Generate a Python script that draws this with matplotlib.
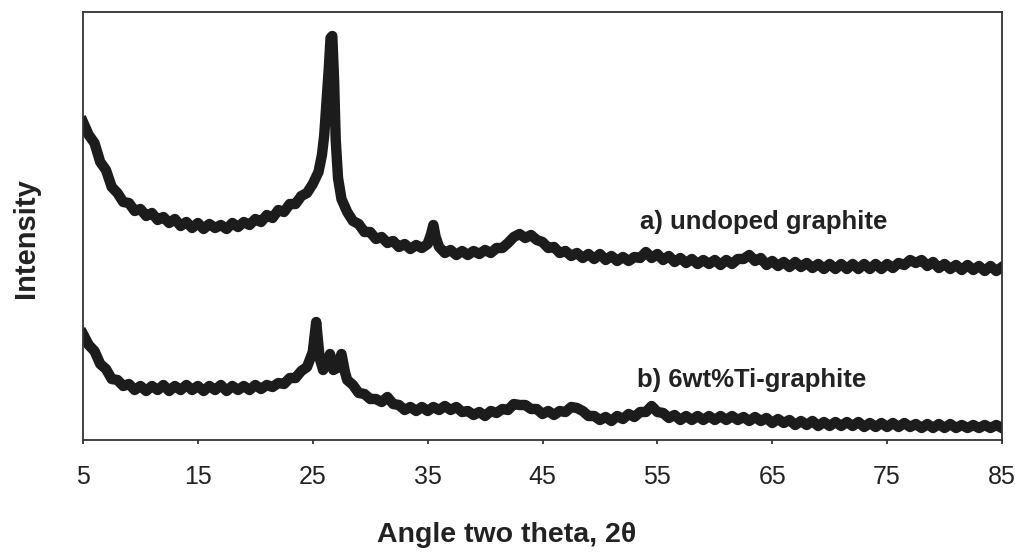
import matplotlib
matplotlib.use("Agg")
import matplotlib.pyplot as plt
from matplotlib import font_manager

# pick a narrow font if the system has one (the tick labels look condensed)
narrow = "Liberation Sans"
try:
    font_manager.findfont("Liberation Sans Narrow", fallback_to_default=False)
    narrow = "Liberation Sans Narrow"
except ValueError:
    pass

plt.rcParams['font.family'] = 'Liberation Sans'

# Data (intensity in arbitrary units)
two_theta_a = [5.0, 5.5, 6.0, 6.5, 7.0, 7.5, 8.0, 8.5, 9.0, 9.5, 10.0, 10.5, 11.0, 11.5,
               12.0, 12.5, 13.0, 13.5, 14.0, 14.5, 15.0, 15.5, 16.0, 16.5, 17.0, 17.5,
               18.0, 18.5, 19.0, 19.5, 20.0, 20.5, 21.0, 21.5, 22.0, 22.5, 23.0, 23.5,
               24.0, 24.5, 25.0, 25.5, 25.8, 26.0, 26.2, 26.4, 26.55, 26.7, 26.85, 27.0,
               27.2, 27.5, 28.0, 28.5, 29.0, 29.5, 30.0, 30.5, 31.0, 31.5, 32.0, 32.5,
               33.0, 33.5, 34.0, 34.5, 35.0, 35.3, 35.5, 35.7, 36.0, 36.5, 37.0, 37.5,
               38.0, 38.5, 39.0, 39.5, 40.0, 40.5, 41.0, 41.5, 42.0, 42.5, 43.0, 43.5,
               44.0, 44.5, 45.0, 45.5, 46.0, 46.5, 47.0, 47.5, 48.0, 48.5, 49.0, 49.5,
               50.0, 50.5, 51.0, 51.5, 52.0, 52.5, 53.0, 53.5, 54.0, 54.5, 55.0, 55.5,
               56.0, 56.5, 57.0, 57.5, 58.0, 58.5, 59.0, 59.5, 60.0, 60.5, 61.0, 61.5,
               62.0, 62.5, 63.0, 63.5, 64.0, 64.5, 65.0, 65.5, 66.0, 66.5, 67.0, 67.5,
               68.0, 68.5, 69.0, 69.5, 70.0, 70.5, 71.0, 71.5, 72.0, 72.5, 73.0, 73.5,
               74.0, 74.5, 75.0, 75.5, 76.0, 76.5, 77.0, 77.5, 78.0, 78.5, 79.0, 79.5,
               80.0, 80.5, 81.0, 81.5, 82.0, 82.5, 83.0, 83.5, 84.0, 84.5, 85.0]
intensity_a = [318, 305, 297, 278, 270, 253, 247, 238, 237, 229, 231, 224, 227, 220,
               223, 217, 221, 214, 218, 212, 217, 211, 216, 212, 215, 211,
               217, 213, 218, 215, 221, 218, 225, 222, 230, 228, 236, 236,
               244, 247, 256, 268, 285, 305, 338, 372, 402, 404, 362, 300,
               262, 241, 228, 219, 216, 208, 208, 201, 203, 197, 199, 193,
               196, 191, 195, 192, 196, 206, 215, 203, 193, 187, 190, 185,
               189, 185, 189, 186, 190, 187, 192, 192, 197, 203, 206, 202,
               205, 200, 198, 192, 193, 187, 189, 184, 187, 182, 186, 181,
               186, 180, 184, 179, 183, 179, 183, 182, 188, 182, 186, 180,
               184, 178, 182, 177, 181, 176, 180, 176, 180, 175, 180, 176,
               181, 181, 185, 179, 182, 175, 179, 174, 178, 173, 178, 173,
               177, 172, 176, 171, 176, 171, 176, 171, 176, 171, 176, 171,
               176, 171, 176, 172, 177, 175, 180, 177, 180, 174, 178, 172,
               176, 171, 175, 170, 175, 170, 174, 169, 174, 169, 173]

two_theta_b = [5.0, 5.5, 6.0, 6.5, 7.0, 7.5, 8.0, 8.5, 9.0, 9.5, 10.0, 10.5, 11.0, 11.5,
               12.0, 12.5, 13.0, 13.5, 14.0, 14.5, 15.0, 15.5, 16.0, 16.5, 17.0, 17.5,
               18.0, 18.5, 19.0, 19.5, 20.0, 20.5, 21.0, 21.5, 22.0, 22.5, 23.0, 23.5,
               24.0, 24.5, 25.0, 25.3, 25.6, 25.9, 26.2, 26.5, 26.8, 27.1, 27.5, 27.8,
               28.0, 28.5, 29.0, 29.5, 30.0, 30.5, 31.0, 31.5, 32.0, 32.5, 33.0, 33.5,
               34.0, 34.5, 35.0, 35.5, 36.0, 36.5, 37.0, 37.5, 38.0, 38.5, 39.0, 39.5,
               40.0, 40.5, 41.0, 41.5, 42.0, 42.5, 43.0, 43.5, 44.0, 44.5, 45.0, 45.5,
               46.0, 46.5, 47.0, 47.5, 48.0, 48.5, 49.0, 49.5, 50.0, 50.5, 51.0, 51.5,
               52.0, 52.5, 53.0, 53.5, 54.0, 54.5, 55.0, 55.5, 56.0, 56.5, 57.0, 57.5,
               58.0, 58.5, 59.0, 59.5, 60.0, 60.5, 61.0, 61.5, 62.0, 62.5, 63.0, 63.5,
               64.0, 64.5, 65.0, 65.5, 66.0, 66.5, 67.0, 67.5, 68.0, 68.5, 69.0, 69.5,
               70.0, 70.5, 71.0, 71.5, 72.0, 72.5, 73.0, 73.5, 74.0, 74.5, 75.0, 75.5,
               76.0, 76.5, 77.0, 77.5, 78.0, 78.5, 79.0, 79.5, 80.0, 80.5, 81.0, 81.5,
               82.0, 82.5, 83.0, 83.5, 84.0, 84.5, 85.0]
intensity_b = [106, 95, 89, 76, 71, 61, 60, 54, 56, 50, 54, 49, 54, 50,
               55, 49, 54, 50, 55, 50, 54, 49, 54, 50, 55, 49,
               54, 50, 54, 50, 55, 51, 55, 53, 57, 56, 62, 62,
               69, 73, 88, 118, 82, 70, 76, 86, 70, 72, 86, 68,
               60, 55, 47, 46, 41, 41, 38, 43, 36, 35, 30, 33,
               29, 33, 29, 33, 30, 34, 30, 33, 28, 29, 25, 28,
               24, 29, 27, 31, 30, 36, 35, 35, 31, 31, 26, 29,
               25, 29, 28, 33, 32, 29, 24, 24, 20, 23, 19, 24,
               21, 26, 23, 28, 28, 34, 28, 27, 22, 25, 20, 24,
               20, 24, 20, 24, 20, 24, 20, 24, 20, 23, 19, 23,
               19, 22, 17, 21, 17, 20, 15, 19, 15, 19, 14, 18,
               14, 18, 14, 18, 14, 18, 13, 17, 13, 17, 13, 17,
               13, 17, 13, 16, 12, 16, 12, 16, 12, 16, 12, 15,
               12, 15, 12, 15, 12, 15, 12]

labels = ["a) undoped graphite", "b) 6wt%Ti-graphite"]
xticks = [5, 15, 25, 35, 45, 55, 65, 75, 85]

fig = plt.figure(figsize=(10.15, 5.53), dpi=100)
ax = fig.add_axes([83 / 1015, 1 - 440 / 553, 919 / 1015, 428 / 553])

line_color = "#1c1c1c"
ax.plot(two_theta_a, intensity_a, color=line_color, linewidth=7.5, solid_joinstyle="round")
ax.plot(two_theta_b, intensity_b, color=line_color, linewidth=7.5, solid_joinstyle="round")

# curve labels
ax.text(53.5, 218, labels[0], fontsize=18.5, fontweight="bold", color="#222222",
        va="center", ha="left")
ax.text(53.2, 60, labels[1], fontsize=18.5, fontweight="bold", color="#222222",
        va="center", ha="left")

ax.set_xlim(5, 85)
ax.set_ylim(0, 428)
ax.set_yticks([])
ax.set_xticks(xticks)
ax.set_xticklabels([str(t) for t in xticks], fontfamily=narrow, fontsize=18, color="#222222")
ax.tick_params(axis="x", direction="out", length=3, width=1.2, pad=15, colors="#222222")

for spine in ax.spines.values():
    spine.set_linewidth(1.3)
    spine.set_color("#333333")

fig.text(507 / 1015, 1 - 535 / 553, "Angle two theta, 2\u03b8", fontfamily=narrow,
         fontsize=20.5, fontweight="bold", ha="center", va="center", color="#222222")
fig.text(26 / 1015, 1 - 238 / 553, "Intensity", fontfamily=narrow, fontsize=21,
         fontweight="bold", rotation=90, ha="center", va="center", color="#222222")

fig.savefig("out.png", dpi=100)
plt.close(fig)
